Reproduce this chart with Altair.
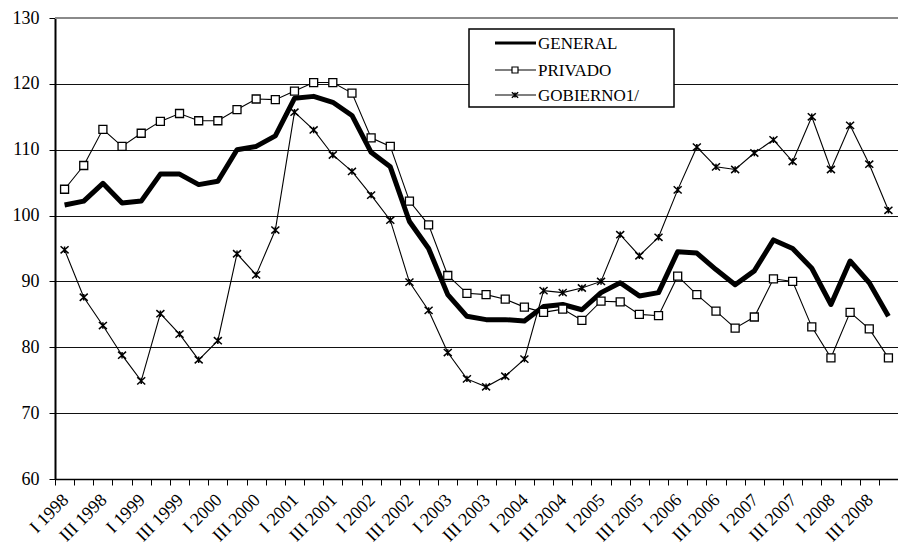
import altair as alt
import pandas as pd

FONT = "Liberation Serif"

years = [1998, 1999, 2000, 2001, 2002, 2003, 2004, 2005, 2006, 2007, 2008]
quarter_names = ["I", "II", "III", "IV"]
labels = [f"{q} {y}" for y in years for q in quarter_names]

series_names = ["GENERAL", "PRIVADO", "GOBIERNO1/"]

general = [101.6, 102.2, 104.9, 101.9, 102.2, 106.3, 106.3, 104.7, 105.2, 110.0,
           110.5, 112.1, 117.8, 118.1, 117.2, 115.2, 109.6, 107.4, 99.1, 95.0,
           88.0, 84.7, 84.2, 84.2, 84.0, 86.2, 86.5, 85.7, 88.3, 89.8,
           87.8, 88.3, 94.5, 94.3, 91.8, 89.5, 91.6, 96.3, 95.0, 92.0,
           86.5, 93.1, 89.8, 84.7]
privado = [104.0, 107.6, 113.1, 110.5, 112.5, 114.3, 115.5, 114.4, 114.4, 116.1,
           117.7, 117.6, 118.9, 120.2, 120.2, 118.6, 111.8, 110.5, 102.2, 98.6,
           90.9, 88.2, 88.0, 87.3, 86.1, 85.3, 85.8, 84.1, 87.0, 86.9,
           85.0, 84.8, 90.8, 88.0, 85.5, 82.9, 84.6, 90.4, 90.0, 83.1,
           78.4, 85.3, 82.8, 78.4]
gobierno = [94.8, 87.6, 83.3, 78.8, 74.9, 85.1, 82.0, 78.1, 81.0, 94.2,
            91.0, 97.8, 115.7, 113.0, 109.2, 106.7, 103.1, 99.3, 89.9, 85.6,
            79.2, 75.2, 74.0, 75.6, 78.2, 88.6, 88.3, 89.0, 90.0, 97.1,
            93.9, 96.7, 103.9, 110.4, 107.4, 107.0, 109.5, 111.5, 108.2, 115.0,
            107.0, 113.7, 107.8, 100.8]

y_ticks = [60, 70, 80, 90, 100, 110, 120, 130]

n = len(labels)
pos = [i + 0.5 for i in range(n)]

df = pd.DataFrame({
    "pos": pos * 3,
    "q": labels * 3,
    "series": [series_names[0]] * n + [series_names[1]] * n + [series_names[2]] * n,
    "val": general + privado + gobierno,
})

label_df = pd.DataFrame({"pos": pos, "q": labels})
label_df = label_df[[(s.startswith("I ") or s.startswith("III ")) for s in labels]]

x_scale = alt.Scale(domain=[0, n], nice=False, zero=False)
y_scale = alt.Scale(domain=[60, 130], nice=False, zero=False)

x_axis = alt.Axis(values=list(range(n + 1)), labels=False, tickSize=6, tickColor="black",
                  tickWidth=1, domainColor="black", domainWidth=1.5, grid=False, title=None)
y_axis = alt.Axis(values=y_ticks, labelFont=FONT, labelFontSize=18, labelColor="black",
                  labelPadding=10, tickSize=6, tickColor="black", domainColor="black",
                  domainWidth=2, grid=True, gridColor="#111111", gridWidth=1.2, title=None)

x_enc = alt.X("pos:Q", title=None, scale=x_scale, axis=x_axis)
y_enc = alt.Y("val:Q", title=None, scale=y_scale, axis=y_axis)

base = alt.Chart(df).encode(x=x_enc, y=y_enc, order="pos:Q")

top_line = alt.Chart(pd.DataFrame({"v": [130]})).mark_rule(color="#8a8a8a", strokeWidth=2).encode(
    y=alt.Y("v:Q", title=None, scale=y_scale, axis=y_axis))

line_general = base.transform_filter(alt.datum.series == "GENERAL").mark_line(
    color="black", strokeWidth=5, strokeJoin="round")
line_priv = base.transform_filter(alt.datum.series == "PRIVADO").mark_line(color="black", strokeWidth=1.1)
pts_priv = base.transform_filter(alt.datum.series == "PRIVADO").mark_point(
    shape="square", size=64, filled=True, fill="white", stroke="black", strokeWidth=1.3, opacity=1)
line_gob = base.transform_filter(alt.datum.series == "GOBIERNO1/").mark_line(color="black", strokeWidth=1.1)
cross_path = "M-1,-0.9L1,0.9M-1,0.9L1,-0.9M0,-0.8L0,0.8"
pts_gob = base.transform_filter(alt.datum.series == "GOBIERNO1/").mark_point(
    shape=cross_path, size=64, stroke="black", strokeWidth=1.5, opacity=1)

x_labels = alt.Chart(label_df).mark_text(
    angle=315, align="right", baseline="middle", font=FONT, fontSize=18, color="black", dx=2).encode(
    x=alt.X("pos:Q", title=None, scale=x_scale, axis=x_axis), y=alt.value(481), text="q:N")

# legend (drawn manually, top-right inside the plot)
one = pd.DataFrame({"k": [0]})
legend_box = alt.Chart(one).mark_rect(fill="white", stroke="black", strokeWidth=1.5).encode(
    x=alt.value(414), x2=alt.value(619), y=alt.value(11), y2=alt.value(89))

legend_layers = [legend_box]
row_y = [25, 52, 77]
row_w = [3, 1.2, 1.2]
for name, yy, w in zip(series_names, row_y, row_w):
    d = pd.DataFrame({"name": [name]})
    legend_layers.append(alt.Chart(d).mark_rule(color="black", strokeWidth=w).encode(
        x=alt.value(440), x2=alt.value(481), y=alt.value(yy)))
    legend_layers.append(alt.Chart(d).mark_text(
        align="left", baseline="middle", font=FONT, fontSize=17, color="black").encode(
        x=alt.value(483), y=alt.value(yy + 1), text="name:N"))
legend_layers.append(alt.Chart(pd.DataFrame({"name": [series_names[1]]})).mark_point(
    shape="square", size=36, filled=True, fill="white", stroke="black", strokeWidth=1.2, opacity=1).encode(
    x=alt.value(460), y=alt.value(row_y[1])))
legend_layers.append(alt.Chart(pd.DataFrame({"name": [series_names[2]]})).mark_point(
    shape=cross_path, size=40, stroke="black", strokeWidth=1.4, opacity=1).encode(
    x=alt.value(460), y=alt.value(row_y[2])))

chart = alt.layer(
    line_general, line_priv, pts_priv, line_gob, pts_gob, top_line, x_labels, *legend_layers
).properties(
    width=843, height=461,
    autosize=alt.AutoSizeParams(type="none"),
    padding={"left": 47, "top": 10, "right": 0, "bottom": 67},
).configure_view(stroke=None).configure(background="white")

chart.save("out.html", embed_options={"renderer": "svg", "actions": False})
